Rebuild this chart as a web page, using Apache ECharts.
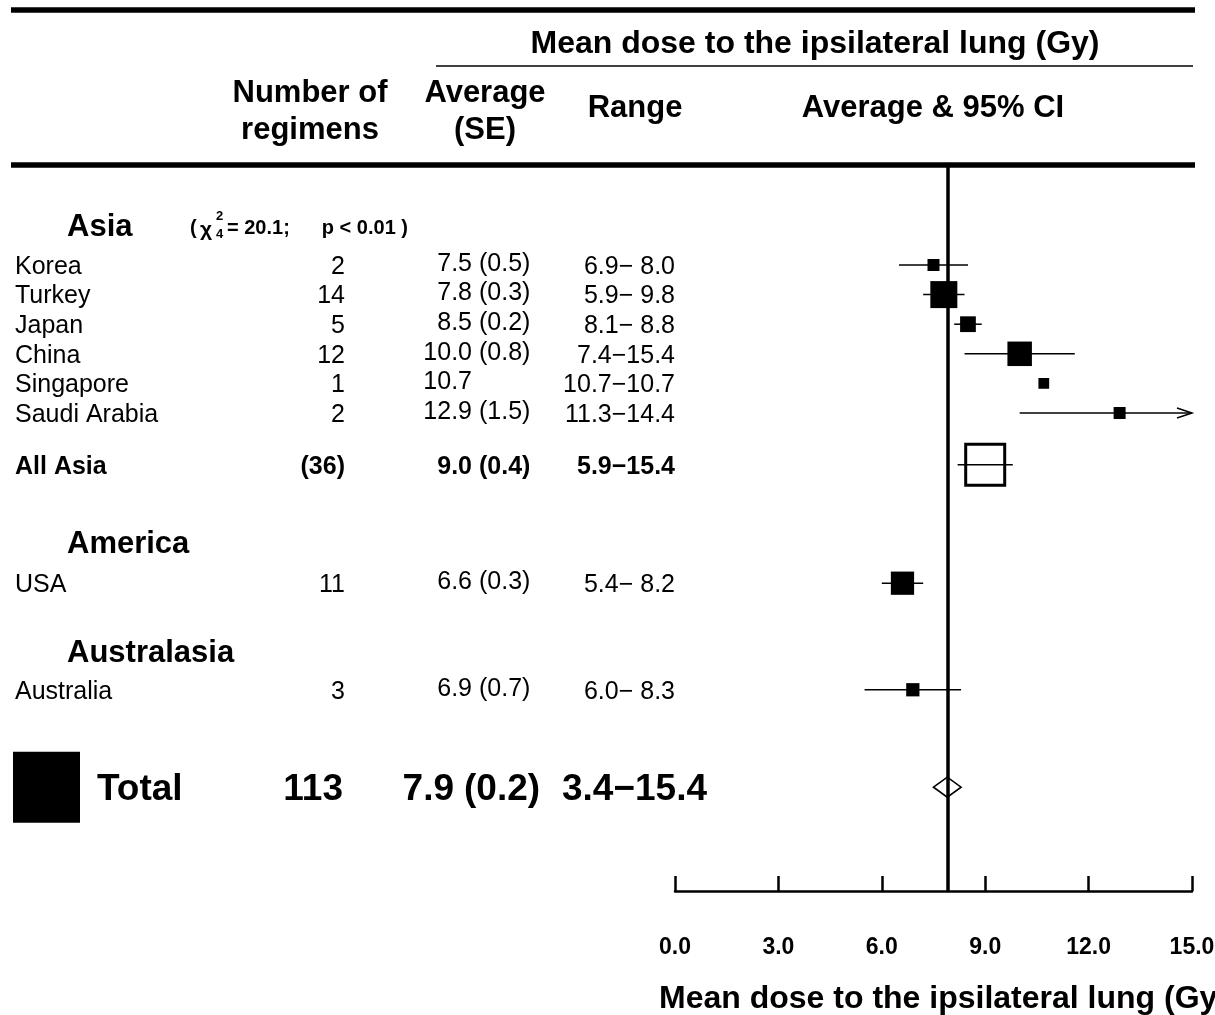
<!DOCTYPE html>
<html>
<head>
<meta charset="utf-8">
<title>Mean dose to the ipsilateral lung by region</title>
<script src="https://cdn.jsdelivr.net/npm/echarts@6/dist/echarts.min.js"></script>
<style>
  html, body { margin: 0; padding: 0; background: #ffffff; }
  #chart { width: 1215px; height: 1015px; }
</style>
</head>
<body>
<div id="chart"></div>
<script>
// ---- data ----------------------------------------------------------------
const rowLabels = ['Korea', 'Turkey', 'Japan', 'China', 'Singapore', 'Saudi Arabia',
                   'All Asia', 'USA', 'Australia', 'Total'];
const rowKinds = ['country', 'country', 'country', 'country', 'country', 'country',
                  'subtotal', 'country', 'country', 'total'];
const regimens = [2, 14, 5, 12, 1, 2, 36, 11, 3, 113];
const averages = [7.5, 7.8, 8.5, 10.0, 10.7, 12.9, 9.0, 6.6, 6.9, 7.9];
const standardErrors = [0.5, 0.3, 0.2, 0.8, null, 1.5, 0.4, 0.3, 0.7, 0.2];
const rangeLow = [6.9, 5.9, 8.1, 7.4, 10.7, 11.3, 5.9, 5.4, 6.0, 3.4];
const rangeHigh = [8.0, 9.8, 8.8, 15.4, 10.7, 14.4, 15.4, 8.2, 8.3, 15.4];
const ciLow = [6.5, 7.2, 8.1, 8.4, null, 10.0, 8.2, 6.0, 5.5, 7.5];
const ciHigh = [8.5, 8.4, 8.9, 11.6, null, 15.8, 9.8, 7.2, 8.3, 8.3];
const regions = ['Asia', 'America', 'Australasia'];
const doseTicks = [0, 3, 6, 9, 12, 15];

// ---- layout --------------------------------------------------------------
const FONT = '"Liberation Sans", Arial, Helvetica, sans-serif';
const ROW_PX = 29.6;          // height of one table line
const GRID_TOP = 165;
const GRID_BOTTOM = 891;
const FIRST_ROW_Y = 265;
const TEXT_DROP = 2;          // optical centring of text on its row
// vertical slot (in table lines) of every row and region heading
const ROW_SLOT = [0, 1, 2, 3, 4, 5, 6.75, 10.75, 14.35, 17.64];
const REGION_SLOT = [-1.35, 9.36, 13.04];
const Y_MIN = -(FIRST_ROW_Y - GRID_TOP) / ROW_PX;
const Y_MAX = (GRID_BOTTOM - FIRST_ROW_Y) / ROW_PX;

const boxSide = n => 9.5 + 1.25 * n;

function txt(text, x, y, font, align) {
  return {
    type: 'text',
    style: {
      text: text, x: x, y: y, font: font, fill: '#000',
      align: align, textAlign: align,
      verticalAlign: 'middle', textVerticalAlign: 'middle'
    }
  };
}

// table columns, one text per cell
function renderTableRow(params, api) {
  const i = params.dataIndex;
  const kind = rowKinds[i];
  const big = kind === 'total';
  const cy = api.coord([0, ROW_SLOT[i]])[1] + (big ? 3 : TEXT_DROP);
  const font = big ? 'bold 37px ' + FONT
             : kind === 'subtotal' ? 'bold 25px ' + FONT
             : '25px ' + FONT;
  const nText = kind === 'subtotal' ? '(' + regimens[i] + ')' : String(regimens[i]);
  const se = standardErrors[i];
  const hi = rangeHigh[i];
  const rangeText = rangeLow[i].toFixed(1) + '\u2212' + (hi < 10 ? ' ' : '') + hi.toFixed(1);
  const lift = kind === 'country' ? -3 : 0;
  return {
    type: 'group',
    children: [
      txt(rowLabels[i], big ? 97 : 15, cy, font, 'left'),
      txt(nText, big ? 343 : 345, cy, font, 'right'),
      txt(averages[i].toFixed(1), big ? 454 : 472, cy + lift, font, 'right'),
      txt(se == null ? '' : '(' + se.toFixed(1) + ')', big ? 464 : 479, cy + lift, font, 'left'),
      txt(rangeText, big ? 707 : 675, cy, font, 'right')
    ]
  };
}

function renderRegion(params, api) {
  const i = params.dataIndex;
  const cy = api.coord([0, REGION_SLOT[i]])[1] + TEXT_DROP;
  return txt(regions[i], 67, cy, 'bold 31px ' + FONT, 'left');
}

// squares, confidence intervals, subtotal box and total diamond
function renderForest(params, api) {
  const i = params.dataIndex;
  const kind = rowKinds[i];
  const p = api.coord([averages[i], ROW_SLOT[i]]);
  const cx = p[0], cy = p[1];
  const xLeft = api.coord([doseTicks[0], 0])[0];
  const xRight = api.coord([doseTicks[doseTicks.length - 1], 0])[0];
  const children = [];

  if (kind === 'total') {
    const l = api.coord([ciLow[i], 0])[0];
    const r = api.coord([ciHigh[i], 0])[0];
    children.push({
      type: 'polygon',
      shape: { points: [[l, cy], [cx, cy - 10], [r, cy], [cx, cy + 10]] },
      style: { fill: 'none', stroke: '#000', lineWidth: 1.6 }
    });
    children.push({
      type: 'rect',
      shape: { x: 13, y: cy - 35.5, width: 67, height: 71 },
      style: { fill: '#000' }
    });
    return { type: 'group', children: children };
  }

  const ciParts = [];
  if (ciLow[i] != null) {
    const l = Math.max(xLeft, api.coord([ciLow[i], 0])[0]);
    const rRaw = api.coord([ciHigh[i], 0])[0];
    const r = Math.min(xRight, rRaw);
    ciParts.push({
      type: 'line',
      shape: { x1: l, y1: cy, x2: r, y2: cy },
      style: { stroke: '#000', lineWidth: 1.5 }
    });
    if (rRaw > xRight) {
      ciParts.push({
        type: 'polyline',
        shape: { points: [[xRight - 15, cy - 5], [xRight, cy], [xRight - 15, cy + 5]] },
        style: { stroke: '#000', lineWidth: 1.5, fill: 'none' }
      });
    }
  }

  if (kind === 'subtotal') {
    children.push({
      type: 'rect',
      shape: { x: cx - 19.5, y: cy - 20.5, width: 39, height: 41 },
      style: { fill: '#fff', stroke: '#000', lineWidth: 3 }
    });
    children.push.apply(children, ciParts);
  } else {
    children.push.apply(children, ciParts);
    const s = boxSide(regimens[i]);
    children.push({
      type: 'rect',
      shape: { x: cx - s / 2, y: cy - s / 2, width: s, height: s },
      style: { fill: '#000' }
    });
  }
  return { type: 'group', children: children };
}

const headFont = 'bold 31px ' + FONT;
const chiFont = 'bold 20px ' + FONT;

const option = {
  animation: false,
  backgroundColor: '#ffffff',
  grid: {
    left: 675, right: 1215 - 1192, top: GRID_TOP, bottom: 1015 - GRID_BOTTOM,
    containLabel: false, outerBoundsMode: 'none'
  },
  xAxis: {
    type: 'value',
    min: doseTicks[0],
    max: doseTicks[doseTicks.length - 1],
    interval: doseTicks[1] - doseTicks[0],
    name: 'Mean dose to the ipsilateral lung (Gy)',
    nameLocation: 'middle',
    nameGap: 92,
    nameTextStyle: { fontFamily: FONT, fontWeight: 'bold', fontSize: 32, color: '#000', padding: [0, 0, 0, 20] },
    axisLine: { show: true, onZero: false, lineStyle: { color: '#000', width: 2.5 } },
    axisTick: { show: true, inside: true, length: 15, lineStyle: { color: '#000', width: 2.5 } },
    axisLabel: {
      margin: 45, fontFamily: FONT, fontWeight: 'bold', fontSize: 23, color: '#000',
      formatter: v => v.toFixed(1)
    },
    splitLine: { show: false }
  },
  yAxis: {
    type: 'value', inverse: true, min: Y_MIN, max: Y_MAX, show: false,
    splitLine: { show: false }
  },
  graphic: [
    { type: 'line', shape: { x1: 11, y1: 10, x2: 1195, y2: 10 }, style: { stroke: '#000', lineWidth: 5.5 } },
    { type: 'line', shape: { x1: 436, y1: 66, x2: 1193, y2: 66 }, style: { stroke: '#000', lineWidth: 1.6 } },
    { type: 'line', shape: { x1: 11, y1: 165, x2: 1195, y2: 165 }, style: { stroke: '#000', lineWidth: 5.5 } },
    txt('Mean dose to the ipsilateral lung (Gy)', 815, 44, 'bold 32px ' + FONT, 'center'),
    { type: 'text', style: { text: 'Number of\nregimens', x: 310, y: 112, font: headFont, fill: '#000',
      align: 'center', textAlign: 'center', verticalAlign: 'middle', textVerticalAlign: 'middle', lineHeight: 37 } },
    { type: 'text', style: { text: 'Average\n(SE)', x: 485, y: 112, font: headFont, fill: '#000',
      align: 'center', textAlign: 'center', verticalAlign: 'middle', textVerticalAlign: 'middle', lineHeight: 37 } },
    txt('Range', 635, 108, headFont, 'center'),
    txt('Average & 95% CI', 933, 108, headFont, 'center'),
    // heterogeneity test for Asia
    txt('(', 190, 228, chiFont, 'left'),
    txt('\u03C7', 200, 230, 'bold 21px ' + FONT, 'left'),
    txt('2', 216, 216, 'bold 13px ' + FONT, 'left'),
    txt('4', 216, 234, 'bold 13px ' + FONT, 'left'),
    txt('= 20.1;', 227, 228, chiFont, 'left'),
    txt('p < 0.01 )', 408, 228, chiFont, 'right')
  ],
  series: [
    {
      name: 'regions',
      type: 'custom',
      z: 1,
      silent: true,
      renderItem: renderRegion,
      data: regions.map((r, i) => [0, REGION_SLOT[i]]),
      markLine: {
        silent: true,
        symbol: 'none',
        label: { show: false },
        lineStyle: { color: '#000', width: 3.5, type: 'solid' },
        data: [{ xAxis: averages[rowKinds.indexOf('total')] }]
      }
    },
    {
      name: 'table',
      type: 'custom',
      z: 2,
      silent: true,
      renderItem: renderTableRow,
      data: rowLabels.map((r, i) => [0, ROW_SLOT[i]])
    },
    {
      name: 'forest',
      type: 'custom',
      z: 5,
      silent: true,
      renderItem: renderForest,
      data: rowLabels.map((r, i) => [averages[i], ROW_SLOT[i]])
    }
  ]
};

const chart = echarts.init(document.getElementById('chart'));
chart.setOption(option);
</script>
</body>
</html>
